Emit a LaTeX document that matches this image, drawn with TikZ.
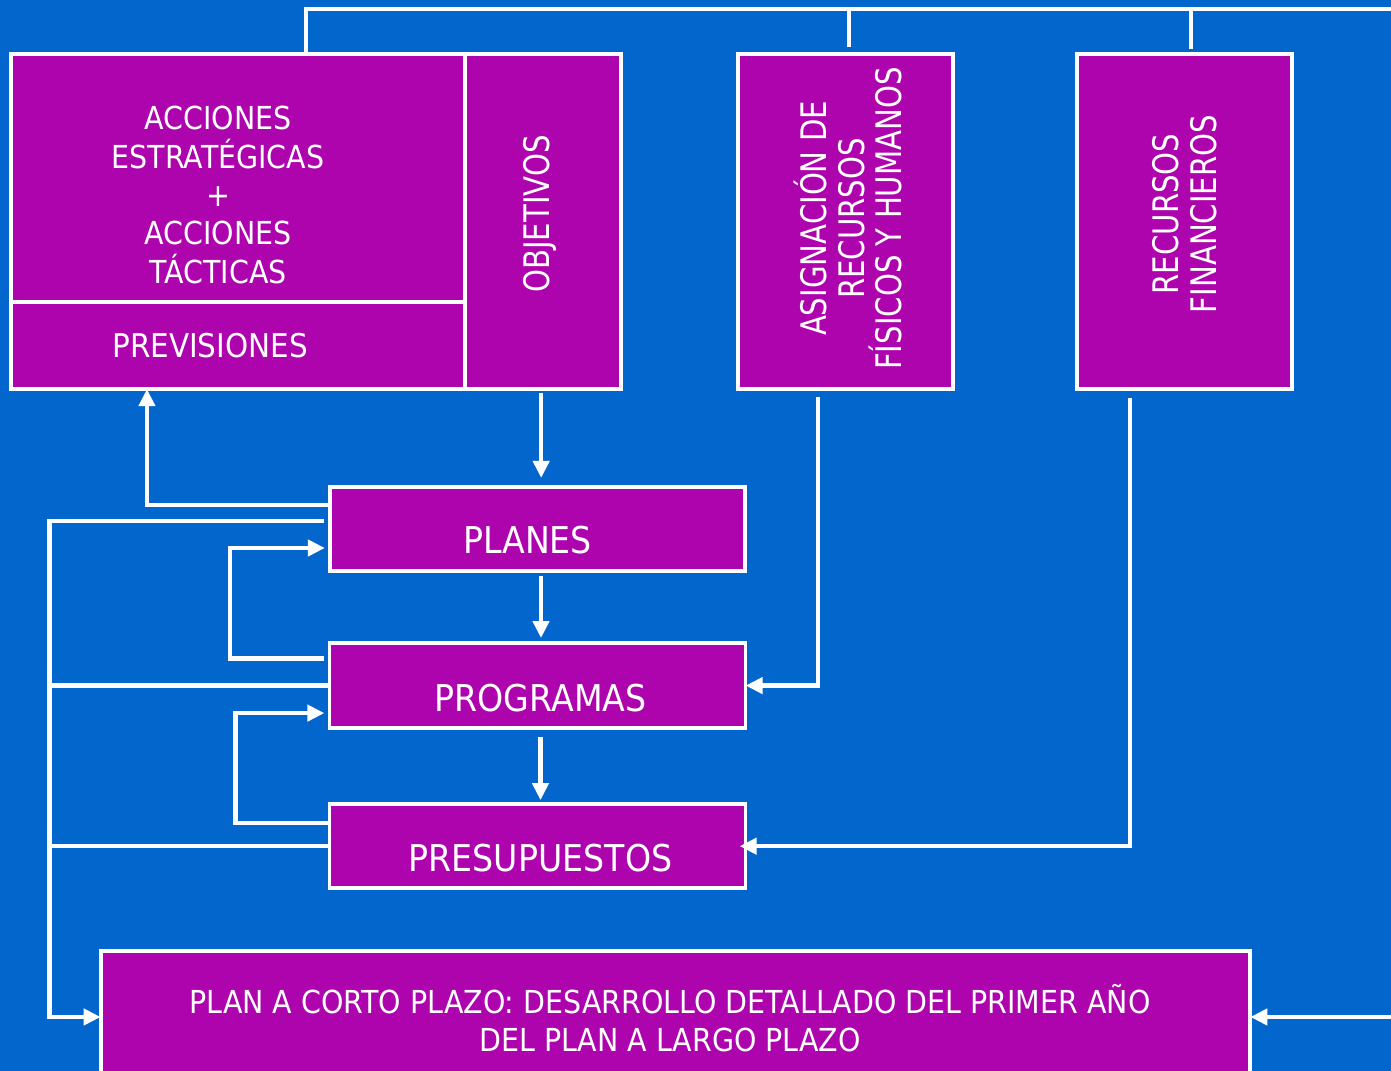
\documentclass[tikz,border=0pt]{standalone}
\usepackage{fontspec}
\setmainfont{DejaVu Sans}
\newfontfamily\hfont{DejaVu Sans}[FakeStretch=0.90]
\newfontfamily\vfont{DejaVu Sans}[FakeStretch=0.83]
\usetikzlibrary{arrows.meta,positioning,calc}
\definecolor{fondo}{HTML}{0366CC}
\definecolor{caja}{HTML}{AD04AD}
\tikzset{
    %Define standard arrow tip
    >={Triangle[length=0.17cm,width=0.16cm]},
    %Define style for boxes
    bloque/.style={
   	rectangle,
   	draw=white, line width=1pt,
   	fill=caja,
   	inner sep=0pt,
   	outer sep=0pt
   },
    %Define style for texts
    txt/.style={
   	text=white,
   	align=center,
   	inner sep=0pt,
   	font=\hfont\fontsize{9}{10.9}\selectfont
   },
    txtgr/.style={
   	txt,
   	font=\hfont\fontsize{10.5}{12}\selectfont
   },
    vtxt/.style={
   	text=white,
   	align=center,
   	inner sep=0pt,
   	rotate=90,
   	font=\vfont\fontsize{10}{10.7}\selectfont
   },
    % Define line styles
    linea/.style={
           draw=white,
           line width=1.3pt},
    flecha/.style={
           linea,
           ->}
}
\begin{document}
\begin{tikzpicture}[x=0.01cm,y=-0.01cm]
		\useasboundingbox (0,0) rectangle (1391,1071);
		\clip (0,0) rectangle (1391,1071);
		\fill[fondo] (0,0) rectangle (1391,1071);
		%nodes
		\node[bloque, minimum width=4.54cm, minimum height=2.48cm] (acc) at (238,178) {};
		\node[bloque, minimum width=4.54cm, minimum height=0.87cm, below=0pt of acc] (prev) {};
		\node[bloque, minimum width=1.56cm, minimum height=3.35cm, anchor=north west] (obj) at (acc.north east) {};
		\node[bloque, minimum width=2.15cm, minimum height=3.35cm] (asig) at (845.5,221.5) {};
		\node[bloque, minimum width=2.15cm, minimum height=3.35cm] (fin) at (1184.5,221.5) {};
		\node[bloque, minimum width=4.15cm, minimum height=0.84cm] (planes) at (537.5,529) {};
		\node[bloque, minimum width=4.16cm, minimum height=0.85cm, below=0.72cm of planes] (programas) {};
		\node[bloque, minimum width=4.16cm, minimum height=0.84cm, below=0.76cm of programas] (presup) {};
		\node[bloque, minimum width=11.49cm, minimum height=1.32cm, line width=1.2pt] (plan) at (675.5,1017) {};
		%texts
		\node[txt] at ([xshift=-0.2cm,yshift=-0.17cm]acc.center) {ACCIONES\\ESTRATÉGICAS\\+\\ACCIONES\\TÁCTICAS};
		\node[txt, font=\hfont\fontsize{9.3}{11}\selectfont] at ([xshift=-0.28cm]prev.center) {PREVISIONES};
		\node[vtxt] at ([xshift=-0.03cm,yshift=0.075cm]obj.center) {OBJETIVOS};
		\node[vtxt] at ([xshift=0.025cm,yshift=0.03cm]asig.center) {ASIGNACIÓN DE\\RECURSOS\\FÍSICOS Y HUMANOS};
		\node[vtxt, font=\vfont\fontsize{10}{10.8}\selectfont] at ([yshift=0.075cm]fin.center) {RECURSOS\\FINANCIEROS};
		\node[txtgr] at ([xshift=-0.1cm,yshift=-0.11cm]planes.center) {PLANES};
		\node[txtgr] at ([xshift=0.03cm,yshift=-0.125cm]programas.center) {PROGRAMAS};
		\node[txtgr] at ([xshift=0.03cm,yshift=-0.12cm]presup.center) {PRESUPUESTOS};
		\node[txt, font=\hfont\fontsize{9}{10.8}\selectfont] at ([xshift=-0.055cm,yshift=-0.01cm]plan.center) {PLAN A CORTO PLAZO: DESARROLLO DETALLADO DEL PRIMER AÑO\\DEL PLAN A LARGO PLAZO};
		%top line
		\coordinate (bw) at (306,9);
		\coordinate (be) at (1391,9);
		\draw[linea] (acc.north -| bw) -- (bw) -- (be);
		\draw[linea, shorten <=0.07cm] ([xshift=0.035cm]asig.north) -- ([xshift=0.035cm]asig.north |- bw);
		\draw[linea, shorten <=0.05cm] ([xshift=0.065cm]fin.north) -- ([xshift=0.065cm]fin.north |- bw);
		%downward chain
		\draw[flecha, shorten <=0.04cm, shorten >=0.09cm] ([xshift=-0.02cm]obj.south) -- ([xshift=-0.02cm]obj.south |- planes.north);
		\draw[flecha, shorten <=0.05cm, shorten >=0.05cm] ([xshift=0.035cm]planes.south) -- ([xshift=0.035cm]planes.south |- programas.north);
		\draw[flecha, shorten <=0.09cm, shorten >=0.04cm] ([xshift=0.03cm]programas.south) -- ([xshift=0.03cm]programas.south |- presup.north);
		%feedback on the left
		\draw[flecha] ([yshift=0.24cm]planes.west) -| ([xshift=-0.91cm]prev.south);
		\coordinate (lb) at ([xshift=-0.51cm]plan.west);
		\draw[flecha, shorten <=0.06cm] ([yshift=0.08cm]planes.west) -| (lb) -- (plan.west);
		\draw[linea] (programas.west) -- (programas.west -| lb);
		\draw[linea] (presup.west) -- (presup.west -| lb);
		\draw[flecha, shorten <=0.05cm, shorten >=0.05cm] ([yshift=0.27cm]programas.west) -| ([xshift=-1cm,yshift=-0.19cm]planes.west) -- ([yshift=-0.19cm]planes.west);
		\draw[flecha, shorten >=0.05cm] ([yshift=0.23cm]presup.west) -| ([xshift=-0.94cm,yshift=-0.275cm]programas.west) -- ([yshift=-0.275cm]programas.west);
		%resources on the right
		\draw[flecha, shorten <=0.08cm] ([xshift=-0.275cm]asig.south) |- (programas.east);
		\draw[flecha, shorten <=0.09cm, shorten >=-0.06cm] ([xshift=-0.545cm]fin.south) |- (presup.east);
		\coordinate (rb) at (1391,1017);
		\draw[flecha] (rb) -- (plan.east);
\end{tikzpicture}
\end{document}
